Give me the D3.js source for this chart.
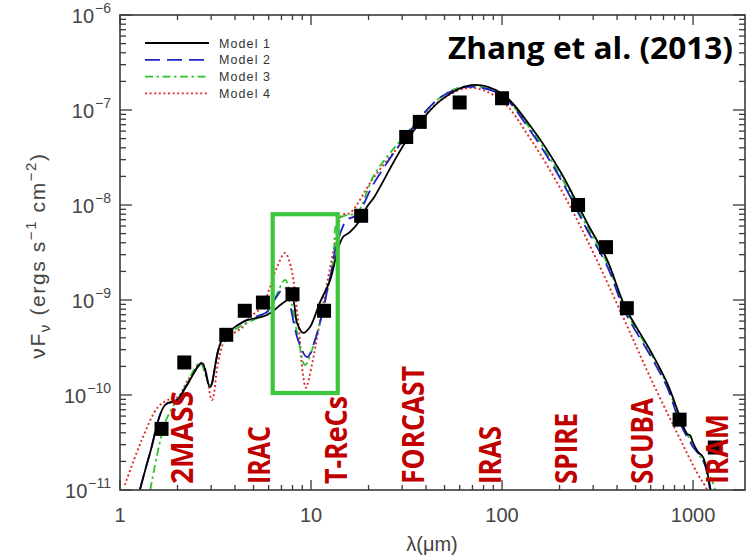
<!DOCTYPE html>
<html>
<head>
<meta charset="utf-8">
<script src="https://cdn.jsdelivr.net/npm/d3@7"></script>
<style>
  body { margin: 0; background: #fff; }
  svg { display: block; }
</style>
</head>
<body>
<svg id="chart" width="748" height="555"></svg>
<script>
// Observed photometry (wavelength in micron, nu F_nu in erg s^-1 cm^-2)
const obsWavelength = [1.65, 2.17, 3.6, 4.5, 5.6, 8.0, 11.7, 18.3, 31.5, 37.1, 60, 100, 250, 350, 450, 850, 1300];
const obsFlux = [4.4e-11, 2.2e-10, 4.3e-10, 7.7e-10, 9.4e-10, 1.15e-9, 7.7e-10, 7.7e-9, 5.2e-8, 7.5e-8, 1.2e-7, 1.33e-7, 1.0e-8, 3.6e-9, 8.2e-10, 5.5e-11, 2.8e-11];

// Model SEDs as [wavelength, nu F_nu] pairs
const model1 = [
  [1.27, 1.0e-11], [1.44, 2.5e-11], [1.72, 7.85e-11], [1.99, 8.86e-11], [2.24, 1.27e-10],
  [2.69, 2.17e-10], [2.96, 1.21e-10], [3.42, 3.8e-10], [4.40, 5.87e-10], [5.88, 6.95e-10],
  [7.13, 9.29e-10], [7.95, 1.05e-9], [8.45, 5.73e-10], [9.08, 4.5e-10], [9.88, 5.2e-10],
  [11.1, 9.29e-10], [12.6, 1.63e-9], [13.8, 3.36e-9], [14.7, 4.6e-9], [16.0, 5.2e-9],
  [18.1, 6.95e-9], [19.6, 9.53e-9], [21.4, 1.21e-8], [31.8, 4.83e-8], [47.9, 1.27e-7],
  [68.8, 1.83e-7], [98.8, 1.51e-7], [142, 6.62e-8], [204, 2.17e-8], [279, 6.47e-9],
  [355, 2.64e-9], [441, 8.44e-10], [595, 2.98e-10], [731, 1.34e-10], [855, 5.86e-11],
  [930, 3.9e-11], [965, 3.75e-11], [1000, 3.13e-11], [1062, 2.51e-11], [1128, 2.22e-11],
  [1227, 1.08e-11], [1273, 6.9e-12]
];
const model2 = [
  [1.27, 1.0e-11], [1.44, 2.5e-11], [1.72, 7.85e-11], [1.99, 8.86e-11], [2.24, 1.27e-10],
  [2.69, 2.17e-10], [2.96, 1.21e-10], [3.42, 3.8e-10], [4.40, 5.87e-10], [5.88, 7.48e-10],
  [6.10, 8.44e-10], [7.31, 1.37e-9], [7.58, 1.13e-9], [8.55, 3.8e-10], [9.53, 2.51e-10],
  [10.5, 3.8e-10], [12.6, 1.75e-9], [13.7, 3.98e-9], [15.4, 6.95e-9], [17.4, 7.85e-9],
  [21.4, 1.71e-8], [31.8, 5.46e-8], [47.9, 1.37e-7], [66.4, 1.75e-7], [98.8, 1.44e-7],
  [142, 5.86e-8], [204, 1.83e-8], [279, 5.46e-9], [355, 2.28e-9], [441, 7.48e-10],
  [595, 2.64e-10], [731, 1.21e-10], [855, 5.07e-11], [1000, 2.84e-11], [1128, 2.07e-11],
  [1227, 1.0e-11], [1250, 6.9e-12]
];
const model3 = [
  [1.44, 1.0e-11], [1.72, 5.07e-11], [1.94, 8.24e-11], [2.19, 1.21e-10], [2.62, 2.17e-10],
  [2.96, 1.27e-10], [3.42, 3.8e-10], [4.40, 5.46e-10], [5.88, 7.48e-10], [7.31, 1.63e-9],
  [7.7, 1.2e-9], [8.55, 4.0e-10], [9.30, 2.07e-10], [10.5, 3.8e-10], [13.0, 2.45e-9],
  [13.8, 6.95e-9], [15.4, 7.85e-9], [17.4, 8.24e-9], [21.4, 2.07e-8], [31.8, 5.73e-8],
  [47.9, 1.37e-7], [66.4, 1.79e-7], [98.8, 1.44e-7], [142, 6.16e-8], [204, 1.97e-8],
  [279, 5.87e-9], [355, 2.45e-9], [441, 7.85e-10], [595, 2.84e-10], [731, 1.27e-10],
  [855, 5.46e-11], [1000, 2.98e-11], [1156, 1.83e-11], [1304, 1.0e-11], [1320, 6.9e-12]
];
const model4 = [
  [1.06, 1.13e-11], [1.30, 3.36e-11], [1.58, 7.48e-11], [1.78, 8.86e-11], [2.01, 9.53e-11],
  [2.27, 1.44e-10], [2.69, 2.17e-10], [3.03, 8.86e-11], [3.26, 2.17e-10], [3.55, 3.8e-10],
  [4.40, 5.2e-10], [4.79, 6.62e-10], [5.54, 8.44e-10], [6.10, 1.37e-9], [6.64, 2.22e-9],
  [7.31, 3.13e-9], [7.85, 2.22e-9], [8.55, 6.16e-10], [9.08, 1.63e-10], [9.41, 1.19e-10],
  [10.1, 2.07e-10], [10.7, 3.8e-10], [12.6, 2.22e-9], [13.7, 5.07e-9], [14.5, 7.85e-9],
  [16.0, 8.24e-9], [21.4, 1.97e-8], [31.8, 5.2e-8], [47.9, 1.27e-7], [68.8, 1.71e-7],
  [98.8, 1.27e-7], [142, 4.83e-8], [204, 1.44e-8], [279, 4.28e-9], [430, 6.62e-10],
  [595, 1.55e-10], [825, 3.98e-11], [1050, 1.51e-11], [1183, 1.0e-11], [1213, 7.8e-12]
];

const modelNames = ["Model 1", "Model 2", "Model 3", "Model 4"];

// Instrument bands written along the bottom of the plot
const instrumentNames = ["2MASS", "IRAC", "T-ReCs", "FORCAST", "IRAS", "SPIRE", "SCUBA", "IRAM"];
const instrumentWavelength = [2.10, 5.34, 13.5, 34.2, 86, 217, 540, 1335];

// Highlighted silicate-feature window
const boxWavelength = [6.3, 13.8];
const boxFlux = [1.05e-10, 8.0e-9];

// Axis tick labels
const xTickLabels = ["1", "10", "100", "1000"];
const yTickExponents = ["−11", "−10", "−9", "−8", "−7", "−6"];

// ---------- layout & styles ----------
const plot = { left: 120, right: 745, top: 15, bottom: 490 };
const axisColor = "#3a3a3a";
const labelColor = "#444";
const modelStyles = [
  { color: "#000000", dash: null, width: 1.8 },
  { color: "#1f22c4", dash: "15,7", width: 1.8 },
  { color: "#2fc42f", dash: "8,3.5,2.5,3.5", width: 1.8 },
  { color: "#e02a2a", dash: "2,2.6", width: 1.9 }
];
const instrumentTextLength = [93, 58, 88, 118, 58, 71, 86, 70];

const svg = d3.select("#chart");

const x = d3.scaleLog().domain([1, 1870]).range([plot.left, plot.right]);
const y = d3.scaleLog().domain([1e-11, 1e-6]).range([plot.bottom, plot.top]);

svg.append("defs").append("clipPath").attr("id", "plotClip")
  .append("rect")
  .attr("x", plot.left).attr("y", plot.top)
  .attr("width", plot.right - plot.left).attr("height", plot.bottom - plot.top);

// ---------- model curves ----------
const line = d3.line()
  .x(d => x(d[0]))
  .y(d => y(d[1]))
  .curve(d3.curveCatmullRom.alpha(0.5));

const models = [model1, model2, model3, model4];
const curves = svg.append("g").attr("clip-path", "url(#plotClip)");
[3, 2, 1, 0].forEach(i => {
  const s = modelStyles[i];
  curves.append("path")
    .datum(models[i])
    .attr("d", line)
    .attr("fill", "none")
    .attr("stroke", s.color)
    .attr("stroke-width", s.width)
    .attr("stroke-dasharray", s.dash)
    .attr("stroke-linejoin", "round");
});

// ---------- frame & ticks ----------
svg.append("rect")
  .attr("x", plot.left).attr("y", plot.top)
  .attr("width", plot.right - plot.left).attr("height", plot.bottom - plot.top)
  .attr("fill", "none").attr("stroke", axisColor).attr("stroke-width", 1.6);

const isMajor = v => Math.abs(Math.log10(v) - Math.round(Math.log10(v))) < 1e-6;
const tickG = svg.append("g").attr("stroke", axisColor).attr("stroke-width", 1.3);

x.ticks().forEach(v => {
  const px = x(v);
  if (px < plot.left - 0.5 || px > plot.right + 0.5) return;
  const len = isMajor(v) ? 10 : 5;
  tickG.append("line").attr("x1", px).attr("x2", px).attr("y1", plot.bottom).attr("y2", plot.bottom - len);
  tickG.append("line").attr("x1", px).attr("x2", px).attr("y1", plot.top).attr("y2", plot.top + len);
});
y.ticks().forEach(v => {
  const py = y(v);
  const len = isMajor(v) ? 12 : 6;
  tickG.append("line").attr("y1", py).attr("y2", py).attr("x1", plot.left).attr("x2", plot.left + len);
  tickG.append("line").attr("y1", py).attr("y2", py).attr("x1", plot.right).attr("x2", plot.right - len);
});

// x tick labels
const xMajor = [1, 10, 100, 1000];
svg.append("g").selectAll("text")
  .data(xMajor)
  .join("text")
  .attr("x", d => x(d))
  .attr("y", plot.bottom + 32)
  .attr("text-anchor", "middle")
  .attr("font-family", "'Liberation Sans', Arial, sans-serif")
  .attr("font-size", 20)
  .attr("fill", labelColor)
  .text((d, i) => xTickLabels[i]);

// y tick labels: 10 with superscript exponent
const yMajor = [1e-11, 1e-10, 1e-9, 1e-8, 1e-7, 1e-6];
const yLab = svg.append("g")
  .attr("font-family", "'Liberation Sans', Arial, sans-serif")
  .attr("fill", labelColor);
yMajor.forEach((v, i) => {
  const t = yLab.append("text")
    .attr("x", 111)
    .attr("y", y(v) + 8)
    .attr("text-anchor", "end")
    .attr("font-size", 20);
  t.append("tspan").text("10");
  t.append("tspan").attr("dy", -10).attr("dx", 1).attr("font-size", 14).text(yTickExponents[i]);
});

// axis titles
svg.append("text")
  .attr("x", 432).attr("y", 551)
  .attr("text-anchor", "middle")
  .attr("font-family", "'Liberation Sans', Arial, sans-serif")
  .attr("font-size", 20)
  .attr("fill", labelColor)
  .text("λ(μm)");

const yTitle = svg.append("text")
  .attr("transform", `translate(45,${(plot.top + plot.bottom) / 2 + 3}) rotate(-90)`)
  .attr("text-anchor", "middle")
  .attr("font-family", "'Liberation Sans', Arial, sans-serif")
  .attr("font-size", 21)
  .attr("letter-spacing", 1.6)
  .attr("fill", labelColor);
yTitle.append("tspan").text("νF");
yTitle.append("tspan").attr("dy", 5).attr("font-size", 15).text("ν");
yTitle.append("tspan").attr("dy", -5).text(" (ergs s");
yTitle.append("tspan").attr("dy", -9).attr("font-size", 15).text("−1");
yTitle.append("tspan").attr("dy", 9).text(" cm");
yTitle.append("tspan").attr("dy", -9).attr("font-size", 15).text("−2");
yTitle.append("tspan").attr("dy", 9).text(")");

// ---------- observed points ----------
const sq = 14;
svg.append("g").selectAll("rect")
  .data(obsWavelength.map((w, i) => [w, obsFlux[i]]))
  .join("rect")
  .attr("x", d => x(d[0]) - sq / 2)
  .attr("y", d => y(d[1]) - sq / 2)
  .attr("width", sq).attr("height", sq)
  .attr("fill", "#000");

// ---------- highlight box ----------
svg.append("rect")
  .attr("x", x(boxWavelength[0]))
  .attr("y", y(boxFlux[1]))
  .attr("width", x(boxWavelength[1]) - x(boxWavelength[0]))
  .attr("height", y(boxFlux[0]) - y(boxFlux[1]))
  .attr("fill", "none")
  .attr("stroke", "#3cc83c")
  .attr("stroke-width", 4.2);

// ---------- legend ----------
const legend = svg.append("g");
modelNames.forEach((name, i) => {
  const ly = 43 + i * 16.8;
  const s = modelStyles[i];
  legend.append("line")
    .attr("x1", 145).attr("x2", 209).attr("y1", ly).attr("y2", ly)
    .attr("stroke", s.color).attr("stroke-width", 1.8)
    .attr("stroke-dasharray", s.dash);
  legend.append("text")
    .attr("x", 219).attr("y", ly + 4.5)
    .attr("font-family", "'Liberation Sans', Arial, sans-serif")
    .attr("font-size", 12.5)
    .attr("letter-spacing", 1.1)
    .attr("fill", "#333")
    .text(name);
});

// ---------- instrument labels ----------
svg.append("g").selectAll("text")
  .data(instrumentNames)
  .join("text")
  .attr("transform", (d, i) => `translate(${x(instrumentWavelength[i]) + 11},484) rotate(-90)`)
  .attr("font-family", "'Open Sans', 'DejaVu Sans', sans-serif")
  .attr("font-weight", 700)
  .attr("font-size", 30)
  .attr("fill", "#c00000")
  .attr("textLength", (d, i) => instrumentTextLength[i])
  .attr("lengthAdjust", "spacingAndGlyphs")
  .text(d => d);

// ---------- title ----------
svg.append("text")
  .attr("x", 733).attr("y", 59)
  .attr("text-anchor", "end")
  .attr("font-family", "'Open Sans', 'DejaVu Sans', sans-serif")
  .attr("font-weight", 700)
  .attr("font-size", 31)
  .attr("fill", "#000")
  .attr("textLength", 285)
  .attr("lengthAdjust", "spacingAndGlyphs")
  .text("Zhang et al. (2013)");
</script>
</body>
</html>
